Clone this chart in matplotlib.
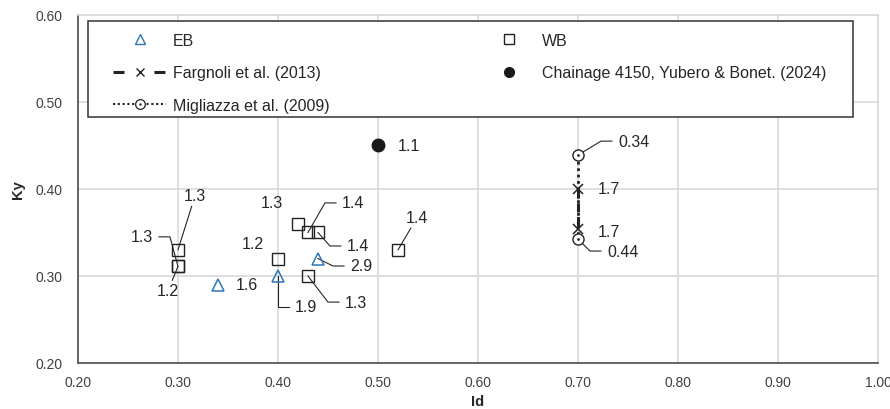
import numpy as np
import matplotlib.pyplot as plt
from matplotlib.path import Path
from matplotlib.lines import Line2D
from matplotlib.patches import Rectangle

plt.rcParams['font.family'] = ['Liberation Sans', 'DejaVu Sans']

# data
eb_x = [0.34, 0.40, 0.44]
eb_y = [0.29, 0.30, 0.32]
eb_lab = ['1.6', '1.9', '2.9']

wb_x = [0.30, 0.30, 0.30, 0.40, 0.42, 0.43, 0.44, 0.43, 0.52]
wb_y = [0.33, 0.311, 0.311, 0.32, 0.36, 0.35, 0.35, 0.30, 0.33]
wb_lab = ['1.3', '1.3', '1.2', '1.2', '1.3', '1.4', '1.4', '1.3', '1.4']

farg_x = [0.70, 0.70]
farg_y = [0.40, 0.354]
farg_lab = ['1.7', '1.7']

ch_x = [0.50]
ch_y = [0.45]
ch_lab = ['1.1']

mig_x = [0.70, 0.70]
mig_y = [0.439, 0.3425]
mig_lab = ['0.34', '0.44']

xticks = np.arange(0.20, 1.001, 0.10)
yticks = np.arange(0.20, 0.601, 0.10)

# label placement: (text x, text y, leader type)
eb_pos = [(0.369, 0.290, 'none'), (0.417, 0.2645, 'right'), (0.472, 0.3115, 'right')]
wb_pos = [(0.317, 0.392, 'straight'), (0.275, 0.345, 'left'), (0.290, 0.283, 'straight'),
          (0.375, 0.337, 'none'), (0.394, 0.385, 'none'), (0.464, 0.384, 'right'),
          (0.469, 0.3345, 'right'), (0.467, 0.270, 'right'), (0.539, 0.367, 'straight')]
farg_pos = [(0.720, 0.400, 'none0'), (0.720, 0.3506, 'none0')]
ch_pos = [(0.520, 0.450, 'none0')]
mig_pos = [(0.740, 0.455, 'right'), (0.729, 0.3287, 'right')]

txtc = '#262626'
blue = '#2E75B6'
grid = '#d9d9d9'
fs = 11.5

fig = plt.figure(figsize=(8.9, 4.1), dpi=100)
ax = fig.add_axes([0.0876, 0.1122, 0.8989, 0.8488])
ax.set_xlim(0.20, 1.00)
ax.set_ylim(0.20, 0.60)
ax.set_xticks(xticks)
ax.set_yticks(yticks)
ax.set_xticklabels(['%.2f' % v for v in xticks])
ax.set_yticklabels(['%.2f' % v for v in yticks])
ax.tick_params(length=0, labelsize=10, colors='#404040')
ax.tick_params(axis='x', pad=9)
ax.tick_params(axis='y', pad=11)
ax.grid(True, color=grid, lw=1.2)
ax.set_axisbelow(True)
for s in ['top', 'right']:
    ax.spines[s].set_color(grid)
    ax.spines[s].set_linewidth(1.2)
for s in ['left', 'bottom']:
    ax.spines[s].set_color('#595959')
    ax.spines[s].set_linewidth(1.3)

ax.set_xlabel('Id', fontweight='bold', fontsize=10.5, color=txtc)
ax.set_ylabel('Ky', fontweight='bold', fontsize=10.5, color=txtc)
ax.xaxis.set_label_coords(0.5, -0.09)
ax.yaxis.set_label_coords(-0.066, 0.5)

# circle with a dot in the middle
odot = Path.make_compound_path(Path.unit_circle(), Path.circle((0, 0), 0.12))

ax.plot(mig_x, mig_y, ls=(0, (1, 1.3)), lw=2, color='#222222', zorder=3)
ax.plot(mig_x, mig_y, ls='none', marker=odot, ms=8, mfc='white', mec='#222222', mew=1, zorder=5)
ax.plot(farg_x, farg_y, ls=(0, (3, 1.5)), lw=2.2, color='#222222', zorder=4,
        marker='x', ms=7, mew=1.1, mec='#222222')
ax.plot(eb_x, eb_y, ls='none', marker='^', ms=8.5, mfc='none', mec=blue, mew=1.1, zorder=5)
ax.plot(wb_x, wb_y, ls='none', marker='s', ms=8, mfc='none', mec='#222222', mew=1, zorder=5)
ax.plot(ch_x, ch_y, ls='none', marker='o', ms=9, color='#1a1a1a', zorder=5)


def labels(xs, ys, labs, pos):
    for x, y, t, (tx, ty, kind) in zip(xs, ys, labs, pos):
        if kind == 'right':
            ax.text(tx, ty, t, ha='left', va='center', fontsize=fs, color=txtc)
            ax.plot([x, tx - 0.017, tx - 0.006], [y, ty, ty], color=txtc, lw=0.8, zorder=4)
        elif kind == 'left':
            ax.text(tx, ty, t, ha='right', va='center', fontsize=fs, color=txtc)
            ax.plot([x, tx + 0.017, tx + 0.006], [y, ty, ty], color=txtc, lw=0.8, zorder=4)
        elif kind == 'straight':
            ax.annotate(t, xy=(x, y), xytext=(tx, ty), ha='center', va='center',
                        fontsize=fs, color=txtc,
                        arrowprops=dict(arrowstyle='-', color=txtc, lw=0.8,
                                        shrinkA=0, shrinkB=0))
        elif kind == 'none0':
            ax.text(tx, ty, t, ha='left', va='center', fontsize=fs, color=txtc)
        else:
            ax.text(tx, ty, t, ha='center', va='center', fontsize=fs, color=txtc)


labels(eb_x, eb_y, eb_lab, eb_pos)
labels(wb_x, wb_y, wb_lab, wb_pos)
labels(farg_x, farg_y, farg_lab, farg_pos)
labels(ch_x, ch_y, ch_lab, ch_pos)
labels(mig_x, mig_y, mig_lab, mig_pos)

# legend
h_eb = Line2D([], [], ls='none', marker='^', ms=7, mfc='none', mec=blue, mew=1)
h_wb = Line2D([], [], ls='none', marker='s', ms=7, mfc='none', mec='#222222', mew=1)
h_fa = Line2D([], [], ls=(0, (3.6, 9.8)), lw=2.2, color='#222222', marker='x', ms=6, mew=1)
h_ch = Line2D([], [], ls='none', marker='o', ms=7, color='#1a1a1a')
h_mi = Line2D([], [], ls=(0, (1, 1.3)), lw=1.5, color='#222222', marker=odot, ms=7,
              mfc='white', mec='#222222', mew=0.9)
blank = Line2D([], [], ls='none')
leg = ax.legend([h_eb, h_fa, h_mi, h_wb, h_ch, blank],
                ['EB', 'Fargnoli et al. (2013)', 'Migliazza et al. (2009)',
                 'WB', 'Chainage 4150, Yubero & Bonet. (2024)', ''],
                ncol=2, loc='upper left', bbox_to_anchor=(0.0375, 0.962),
                frameon=False, fontsize=fs, handlelength=3.35, handletextpad=0.4,
                columnspacing=9.55, labelspacing=1.08, borderpad=0.3, borderaxespad=0)
for t in leg.get_texts():
    t.set_color(txtc)
ax.add_patch(Rectangle((0.0125, 0.707), 0.9563, 0.276, transform=ax.transAxes,
                       fill=True, fc='white', ec='#333333', lw=1.1, zorder=6))
leg.set_zorder(7)

plt.savefig('out.png', dpi=100)
